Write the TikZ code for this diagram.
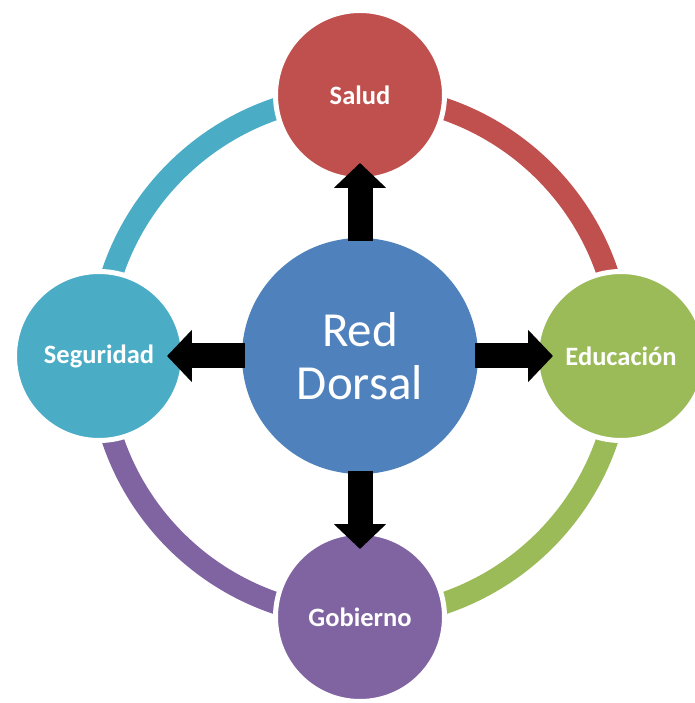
\documentclass[tikz,border=0pt]{standalone}
\usepackage{fontspec}
\setmainfont{Carlito}
\usetikzlibrary{arrows.meta}
\usetikzlibrary{backgrounds}
\definecolor{dorsal}{HTML}{4F81BD}
\definecolor{salud}{HTML}{C0504D}
\definecolor{educacion}{HTML}{9BBB59}
\definecolor{gobierno}{HTML}{8064A2}
\definecolor{seguridad}{HTML}{4BACC6}

\begin{document}
\begin{tikzpicture}[x=1pt,y=1pt,
  sat/.style={circle,draw=white,line width=5pt,minimum size=169pt,inner sep=0pt,
    text=white,font=\bfseries\fontsize{26.5}{30}\selectfont},
  hub/.style={circle,fill=dorsal,minimum size=236pt,inner sep=0pt,
    text=white,align=center,font=\fontsize{49}{53}\selectfont},
  ringarc/.style={line width=22pt},
  link/.style={line width=25pt,-{Triangle[width=51pt,length=25pt]},
    shorten <=-3pt,shorten >=-19pt}]
\def\d{261};
\useasboundingbox (-360,-347) rectangle (334,356);
\node[hub] (hub) at (0,0) {Red\\Dorsal};
\node[sat,fill=salud] (salud) at (90:\d) {Salud};
\node[sat,fill=educacion] (educacion) at (0:\d) {Educación};
\node[sat,fill=gobierno] (gobierno) at (-90:\d) {Gobierno};
\node[sat,fill=seguridad] (seguridad) at (180:\d) {Seguridad};
\begin{scope}[on background layer]
\draw[ringarc,salud] (salud.center) arc[start angle=90,end angle=0,radius=\d];
\draw[ringarc,educacion] (educacion.center) arc[start angle=0,end angle=-90,radius=\d];
\draw[ringarc,gobierno] (gobierno.center) arc[start angle=-90,end angle=-180,radius=\d];
\draw[ringarc,seguridad] (seguridad.center) arc[start angle=180,end angle=90,radius=\d];
\end{scope}
\draw[link] (hub) -- (salud);
\draw[link] (hub) -- (educacion);
\draw[link] (hub) -- (gobierno);
\draw[link] (hub) -- (seguridad);
\end{tikzpicture}
\end{document}
